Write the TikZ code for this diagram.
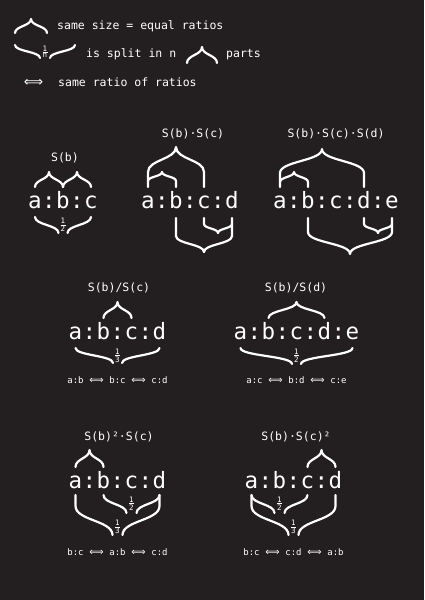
\documentclass[tikz,border=0pt]{standalone}
\usepackage{fontspec}
\setmainfont{DejaVu Sans Mono}
\newfontfamily\mono{DejaVu Sans Mono}
\newfontfamily\bigmono[LetterSpace=2]{DejaVu Sans Mono}
\newfontfamily\symf{DejaVu Sans}
\definecolor{bg}{RGB}{35,31,32}
\tikzset{
  brc/.style={draw=white, line width=2.2pt, line cap=round, line join=round},
  ratio/.style={text=white, font=\bigmono\fontsize{22.5}{22.5}\selectfont, inner sep=0, anchor=base},
  title/.style={text=white, font=\mono\fontsize{11.5}{12}\selectfont, inner sep=0},
  legend/.style={text=white, font=\mono\fontsize{11.5}{12}\selectfont, inner sep=0, anchor=base west},
  small/.style={text=white, font=\mono\fontsize{9}{9}\selectfont, inner sep=0, anchor=base},
  eqv/.style={text=white, font=\symf\fontsize{10}{10}\selectfont, inner sep=0, anchor=base},
  fracn/.style={text=white, font=\mono\fontsize{7.5}{7.5}\selectfont, inner sep=0},
}
\newcommand\myfrac[1]{\vbox{\hbox to 5pt{\hss 1\hss}\kern0.8pt\hrule height 0.7pt\kern0.8pt\hbox to 5pt{\hss #1\hss}}}
% x1 x2 yfootL yfootR yend ytip halfgap
\newcommand\Brc[7]{%
  \pgfmathsetmacro\bxm{(#1+#2)/2}%
  \pgfmathsetmacro\bxl{\bxm-#7}%
  \pgfmathsetmacro\bxr{\bxm+#7}%
  \pgfmathsetmacro\bym{(#5+#6)/2}%
  \ifdim #7pt>0pt
    \draw[brc] (#1,#3) -- (#1,#5) .. controls (#1,\bym) and (\bxl,\bym) .. (\bxl,#6);
    \draw[brc] (\bxr,#6) .. controls (\bxr,\bym) and (#2,\bym) .. (#2,#5) -- (#2,#4);
  \else
    \draw[brc] (#1,#3) -- (#1,#5) .. controls (#1,\bym) and (\bxm,\bym) .. (\bxm,#6) .. controls (\bxm,\bym) and (#2,\bym) .. (#2,#5) -- (#2,#4);
  \fi
}
% cx y t1 t2 t3 prefix
\newcommand\ratiorow[6]{%
  \pgfmathsetmacro\rxa{#1-42}\pgfmathsetmacro\rxb{#1-21}%
  \pgfmathsetmacro\rxc{#1+21}\pgfmathsetmacro\rxd{#1+42}%
  \node[small] (#6a) at (\rxa,#2) {#3};
  \node[eqv] (#6b) at (\rxb,#2) {⟺};
  \node[small] (#6c) at (#1,#2) {#4};
  \node[eqv] (#6d) at (\rxc,#2) {⟺};
  \node[small] (#6e) at (\rxd,#2) {#5};
}
\begin{document}
\begin{tikzpicture}[x=1pt,y=-1pt]
\fill[bg] (0,0) rectangle (424,600);
\useasboundingbox (0,0) rectangle (424,600);
% legend
\Brc{15}{47}{33}{33}{33}{19}{0}
\node[legend] (l1) at (57,29.5) {same size = equal ratios};
\Brc{15}{75}{45}{45}{45}{58}{5}
\node[fracn] (l2f) at (45,52) {\myfrac{n}};
\node[legend] (l2) at (86,57.3) {is split in n};
\Brc{187}{217}{63}{63}{63}{47}{0}
\node[legend] (l2b) at (226,57.3) {parts};
\node[text=white, font=\symf\fontsize{13.5}{13.5}\selectfont, inner sep=0] (l3e) at (33.5,82.5) {⟺};
\node[legend] (l3) at (58,86) {same ratio of ratios};
% D1
\node[title] (t1) at (65,157.5) {S(b)};
\node[ratio] (r1) at (63,208) {a:b:c};
\Brc{35}{63}{187}{187}{187}{172}{0}
\Brc{63}{91}{187}{187}{187}{172}{0}
\Brc{35}{91}{217}{217}{217}{233}{4.5}
\node[fracn] (f1) at (63,225) {\myfrac{2}};
% D2
\node[title] (t2) at (193,134) {S(b)·S(c)};
\node[ratio] (r2) at (190,208) {a:b:c:d};
\Brc{148}{204}{187}{187}{172}{147}{0}
\Brc{148}{176}{181}{187}{181}{172}{0}
\Brc{176}{232}{218}{218}{236}{252}{0}
\Brc{204}{232}{218}{224}{224}{233}{0}
% D3
\node[title] (t3) at (336,134) {S(b)·S(c)·S(d)};
\node[ratio] (r3) at (336,208) {a:b:c:d:e};
\Brc{280}{364}{187}{187}{173}{149}{0}
\Brc{280}{308}{182}{187}{182}{172}{0}
\Brc{308}{392}{218}{218}{232}{254}{0}
\Brc{364}{392}{218}{224}{224}{233}{0}
% D4
\node[title] (t4) at (119,288) {S(b)/S(c)};
\node[ratio] (r4) at (117.5,339) {a:b:c:d};
\Brc{103.5}{131.5}{318}{318}{318}{302}{0}
\Brc{75.5}{159.5}{348}{348}{348}{363}{4.5}
\node[fracn] (f4) at (117.5,355.5) {\myfrac{3}};
\ratiorow{117.5}{383}{a:b}{b:c}{c:d}{q4}
% D5
\node[title] (t5) at (296,288) {S(b)/S(d)};
\node[ratio] (r5) at (296.5,339) {a:b:c:d:e};
\Brc{268.5}{324.5}{318}{318}{318}{302}{0}
\Brc{240.5}{352.5}{348}{348}{348}{364}{4.5}
\node[fracn] (f5) at (296.5,355.5) {\myfrac{2}};
\ratiorow{296.5}{383}{a:c}{b:d}{c:e}{q5}
% D6
\node[title] (t6) at (119,437) {S(b)²·S(c)};
\node[ratio] (r6) at (117.5,488) {a:b:c:d};
\Brc{75.5}{103.5}{467}{467}{467}{450}{0}
\Brc{75.5}{159.5}{495}{495}{506}{535}{5}
\Brc{103.5}{159.5}{495}{495}{495}{513}{5}
\node[fracn] (f6a) at (117.5,527) {\myfrac{3}};
\node[fracn] (f6b) at (131.5,503.5) {\myfrac{2}};
\ratiorow{117.5}{555}{b:c}{a:b}{c:d}{q6}
% D7
\node[title] (t7) at (296,437) {S(b)·S(c)²};
\node[ratio] (r7) at (293.5,488) {a:b:c:d};
\Brc{307.5}{335.5}{467}{467}{467}{450}{0}
\Brc{251.5}{335.5}{495}{495}{506}{535}{5}
\Brc{251.5}{307.5}{495}{495}{495}{513}{5}
\node[fracn] (f7a) at (293.5,527) {\myfrac{3}};
\node[fracn] (f7b) at (279.5,503.5) {\myfrac{2}};
\ratiorow{293.5}{555}{b:c}{c:d}{a:b}{q7}
\end{tikzpicture}
\end{document}
